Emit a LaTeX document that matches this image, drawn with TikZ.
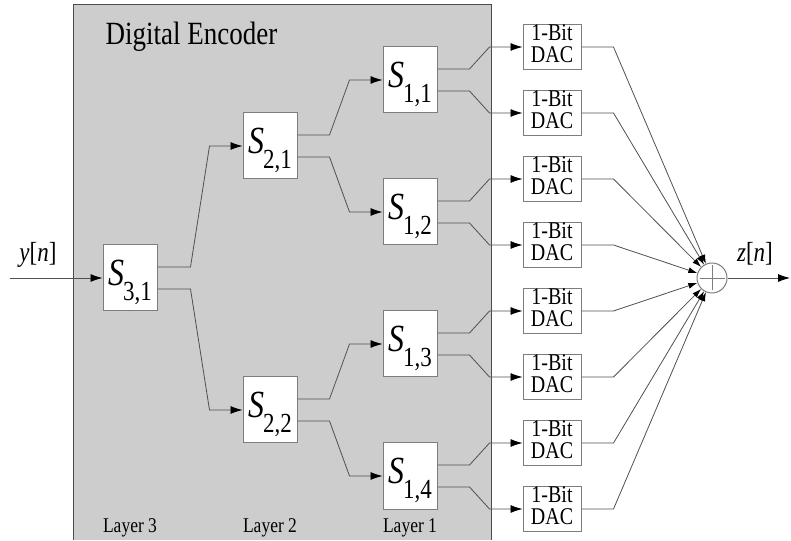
\documentclass[tikz,border=0pt]{standalone}
\usepackage{fontspec}
\setmainfont{LiberationSerif}[Extension=.ttf, UprightFont=*-Regular, ItalicFont=*-Italic,
    BoldFont=*-Bold, BoldItalicFont=*-BoldItalic]
\usepackage{graphicx}
\usepackage{tikz}
\usetikzlibrary{arrows.meta, positioning}

\definecolor{encgray}{RGB}{205,205,205}
\definecolor{wiregray}{RGB}{80,80,80}
\definecolor{edgegray}{RGB}{125,125,125}

% letters a little taller than wide, as in the figure
\newcommand{\tallfont}[1]{\scalebox{1}[1.2]{#1}}
\newcommand{\sublabel}[1]{\tallfont{\fontsize{32}{32}\selectfont\textit{S}\kern-1pt\raisebox{-12.5pt}{\fontsize{23}{23}\selectfont #1}}}
\newcommand{\dactext}{\tallfont{\fontsize{20}{17}\selectfont\begin{tabular}{@{}c@{}}1-Bit\\DAC\end{tabular}}}

\begin{document}
\begin{tikzpicture}[
    x=1pt, y=1pt,
    arrow/.style={-{Latex[length=12pt,width=8pt,color=black]}, draw=wiregray, line width=0.8pt}, % Arrow style
    sumarrow/.style={-{Latex[length=9pt,width=6pt,color=black]}, draw=wiregray, line width=0.8pt},
    sbox/.style={draw=edgegray, fill=white, line width=1pt, minimum width=54pt, minimum height=66pt,
        inner sep=0pt, text height=35pt, text depth=19pt},
    dacbox/.style={draw=edgegray, fill=white, line width=1pt, minimum width=58pt, minimum height=44pt, inner sep=0pt},
    layer/.style={anchor=base, font=\fontsize{17.5}{20}\selectfont}
]
    \useasboundingbox (0,0) rectangle (791,540);

    % Encoder background
    \fill[encgray] (73,0) rectangle (491,535);
    \draw[gray!60!black, line width=1pt] (73,0) -- (73,535) -- (491,535) -- (491,0);
    \node (title) [anchor=base west, font=\fontsize{27}{30}\selectfont] at (102,495) {\tallfont{Digital Encoder}};

    % Splitters
    \node (s31) [sbox] at (130,262) {\sublabel{3,1}};
    \node (s21) [sbox] at (270,394) {\sublabel{2,1}};
    \node (s22) [sbox] at (270,130) {\sublabel{2,2}};
    \node (s11) [sbox] at (410,460) {\sublabel{1,1}};
    \node (s12) [sbox] at (410,328) {\sublabel{1,2}};
    \node (s13) [sbox] at (410,196) {\sublabel{1,3}};
    \node (s14) [sbox] at (410,64)  {\sublabel{1,4}};

    % Layer labels
    \node (l3) [layer] at (130,8) {\tallfont{Layer 3}};
    \node (l2) [layer] at (270,8) {\tallfont{Layer 2}};
    \node (l1) [layer] at (410,8) {\tallfont{Layer 1}};

    % DAC column
    \node (d1) [dacbox] at (552,493) {\dactext};
    \node (d2) [dacbox] at (552,427) {\dactext};
    \node (d3) [dacbox] at (552,361) {\dactext};
    \node (d4) [dacbox] at (552,295) {\dactext};
    \node (d5) [dacbox] at (552,229) {\dactext};
    \node (d6) [dacbox] at (552,163) {\dactext};
    \node (d7) [dacbox] at (552,97)  {\dactext};
    \node (d8) [dacbox] at (552,31)  {\dactext};

    % Summing node
    \node (sum) [circle, draw=edgegray, fill=white, line width=1pt, minimum size=30pt, inner sep=0pt] at (712,262) {};
    \draw[edgegray, line width=0.8pt] ([yshift=-3pt]sum.north) -- ([yshift=3pt]sum.south)
        ([xshift=3pt]sum.west) -- ([xshift=-3pt]sum.east);

    % Input and output
    \coordinate (in) at (10,262);
    \coordinate (out) at (790,262);
    \node (yn) [anchor=base, font=\fontsize{23}{25}\selectfont] at (38,278) {\tallfont{\textit{y}[\textit{n}]}};
    \node (zn) [anchor=base, font=\fontsize{23}{25}\selectfont] at (755,278) {\tallfont{\textit{z}[\textit{n}]}};
    \draw[arrow] (in) -- (s31.west);
    \draw[arrow] (sum.east) -- (out);

    % Layer 3 to layer 2
    \draw[arrow] ([yshift=11pt]s31.east) -- ++(33,0) -- ([xshift=-33pt]s21.west) -- (s21.west);
    \draw[arrow] ([yshift=-11pt]s31.east) -- ++(33,0) -- ([xshift=-33pt]s22.west) -- (s22.west);

    % Layer 2 to layer 1
    \draw[arrow] ([yshift=11pt]s21.east) -- ++(32,0) -- ([xshift=-33pt]s11.west) -- (s11.west);
    \draw[arrow] ([yshift=-11pt]s21.east) -- ++(32,0) -- ([xshift=-33pt]s12.west) -- (s12.west);
    \draw[arrow] ([yshift=11pt]s22.east) -- ++(32,0) -- ([xshift=-33pt]s13.west) -- (s13.west);
    \draw[arrow] ([yshift=-11pt]s22.east) -- ++(32,0) -- ([xshift=-33pt]s14.west) -- (s14.west);

    % Layer 1 to DACs
    \draw[arrow] ([yshift=11pt]s11.east) -- ++(32,0) -- ([xshift=-33pt]d1.west) -- (d1.west);
    \draw[arrow] ([yshift=-11pt]s11.east) -- ++(32,0) -- ([xshift=-33pt]d2.west) -- (d2.west);
    \draw[arrow] ([yshift=11pt]s12.east) -- ++(32,0) -- ([xshift=-33pt]d3.west) -- (d3.west);
    \draw[arrow] ([yshift=-11pt]s12.east) -- ++(32,0) -- ([xshift=-33pt]d4.west) -- (d4.west);
    \draw[arrow] ([yshift=11pt]s13.east) -- ++(32,0) -- ([xshift=-33pt]d5.west) -- (d5.west);
    \draw[arrow] ([yshift=-11pt]s13.east) -- ++(32,0) -- ([xshift=-33pt]d6.west) -- (d6.west);
    \draw[arrow] ([yshift=11pt]s14.east) -- ++(32,0) -- ([xshift=-33pt]d7.west) -- (d7.west);
    \draw[arrow] ([yshift=-11pt]s14.east) -- ++(32,0) -- ([xshift=-33pt]d8.west) -- (d8.west);

    % DACs to the sum
    \draw[sumarrow] (d1.east) -- ++(32,0) -- (sum);
    \draw[sumarrow] (d2.east) -- ++(32,0) -- (sum);
    \draw[sumarrow] (d3.east) -- ++(32,0) -- (sum);
    \draw[sumarrow] (d4.east) -- ++(32,0) -- (sum);
    \draw[sumarrow] (d5.east) -- ++(32,0) -- (sum);
    \draw[sumarrow] (d6.east) -- ++(32,0) -- (sum);
    \draw[sumarrow] (d7.east) -- ++(32,0) -- (sum);
    \draw[sumarrow] (d8.east) -- ++(32,0) -- (sum);

\end{tikzpicture}
\end{document}
